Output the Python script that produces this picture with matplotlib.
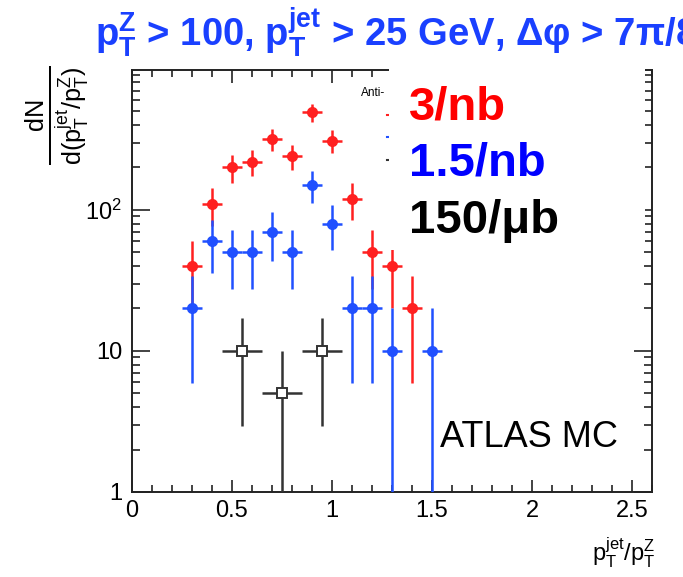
import numpy as np
import matplotlib
matplotlib.use("Agg")
import matplotlib.pyplot as plt
from matplotlib.patches import Rectangle
from matplotlib.lines import Line2D
from matplotlib.ticker import FixedLocator, FixedFormatter, LogLocator, NullFormatter, MultipleLocator

plt.rcParams['font.family'] = ['Liberation Sans', 'DejaVu Sans']
plt.rcParams['mathtext.fontset'] = 'custom'
plt.rcParams['mathtext.rm'] = 'Liberation Sans'
plt.rcParams['mathtext.it'] = 'Liberation Sans:italic'
plt.rcParams['mathtext.bf'] = 'Liberation Sans:bold'

# 3/nb sample (bin width 0.1)
red_x = [0.3, 0.4, 0.5, 0.6, 0.7, 0.8, 0.9, 1.0, 1.1, 1.2, 1.3, 1.4]
red_y = [40, 110, 200, 220, 320, 240, 490, 310, 120, 50, 40, 20]
red_err = [20.0, 33.2, 44.7, 46.9, 56.6, 49.0, 70.0, 55.7, 34.6, 22.4, 20.0, 14.1]

# 1.5/nb sample (bin width 0.1)
blue_x = [0.3, 0.4, 0.5, 0.6, 0.7, 0.8, 0.9, 1.0, 1.1, 1.2, 1.3, 1.5]
blue_y = [20, 60, 50, 50, 70, 50, 150, 80, 20, 20, 10, 10]
blue_err = [14.1, 24.5, 22.4, 22.4, 26.5, 22.4, 38.7, 28.3, 14.1, 14.1, 10.0, 10.0]

# 150/ub sample (bin width 0.2)
black_x = [0.55, 0.75, 0.95]
black_y = [10, 5, 10]
black_err = [7.07, 5.0, 7.07]

W, H = 683, 577
fig = plt.figure(figsize=(W / 100, H / 100), dpi=100)
ax = fig.add_axes([132 / W, 1 - 492 / H, (652 - 132) / W, (492 - 70) / H])
ax.set_yscale('log', nonpositive='clip')

red_c = '#ff2020'
blue_c = '#2050ff'
black_c = '#333333'

ax.errorbar(red_x, red_y, yerr=red_err, xerr=0.05, fmt='o', color=red_c,
            ms=7, elinewidth=1.8, capsize=0, zorder=3)
ax.errorbar(blue_x, blue_y, yerr=blue_err, xerr=0.05, fmt='o', color=blue_c,
            ms=7, elinewidth=1.8, capsize=0, zorder=4)
ax.errorbar(black_x, black_y, yerr=black_err, xerr=0.1, fmt='s', color=black_c,
            mfc='white', mec=black_c, mew=1.4, ms=7.5, elinewidth=1.8,
            capsize=0, zorder=5)

ax.set_xlim(0, 2.6)
ax.set_ylim(1, 980)

for s in ax.spines.values():
    s.set_linewidth(1.4)
    s.set_color('#222222')

ax.xaxis.set_major_locator(FixedLocator([0, 0.5, 1, 1.5, 2, 2.5]))
ax.xaxis.set_major_formatter(FixedFormatter(['0', '0.5', '1', '1.5', '2', '2.5']))
ax.xaxis.set_minor_locator(MultipleLocator(0.1))
ax.yaxis.set_major_locator(FixedLocator([1, 10, 100]))
ax.yaxis.set_major_formatter(FixedFormatter(['1', '10', r'10$^{2}$']))
ax.yaxis.set_minor_locator(LogLocator(base=10, subs=np.arange(2, 10)))
ax.yaxis.set_minor_formatter(NullFormatter())

ax.tick_params(which='both', direction='in', top=True, right=True,
               labelsize=17, color='#222222', width=1.2)
ax.tick_params(axis='x', which='major', length=9, pad=6)
ax.tick_params(axis='x', which='minor', length=5)
ax.tick_params(axis='y', which='major', length=13, pad=7)
ax.tick_params(axis='y', which='minor', length=6)

# axis titles
fig.text(655 / W, 1 - 553 / H, r'p$_\mathrm{T}^\mathrm{jet}$/p$_\mathrm{T}^\mathrm{Z}$',
         ha='right', va='center', fontsize=17)
fig.text(57 / W, 1 - 115 / H,
         r'$\frac{\mathrm{dN}}{\mathrm{d(p_T^{jet}/p_T^{Z})}}$',
         rotation=90, ha='center', va='center', fontsize=26)

# selection title
fig.text(95 / W, 1 - 46 / H,
         r'p$_\mathbf{T}^\mathbf{Z}$ > 100, p$_\mathbf{T}^\mathbf{jet}$ > 25 GeV, Δφ > 7π/8',
         ha='left', va='baseline', fontsize=27.5, fontweight='bold', color='#1a40ff')

# jet algorithm note and legend marker stubs
fig.text(361 / W, 1 - 93 / H, 'Anti-', fontsize=8.5,
         ha='left', va='center', zorder=1)
for yy, cc in [(115, red_c), (137, blue_c), (160, black_c)]:
    fig.add_artist(Line2D([387 / W, 389 / W], [1 - yy / H, 1 - yy / H],
                          color=cc, lw=1.5, zorder=1))

# cover panel
fig.add_artist(Rectangle((389 / W, 1 - 250 / H), (645 - 389) / W, 190 / H,
                         transform=fig.transFigure, facecolor='white',
                         edgecolor='none', zorder=5))

# luminosity labels
fig.text(409 / W, 1 - 107 / H, '3/nb', fontsize=34, fontweight='bold',
         color='#ff0000', ha='left', va='center', zorder=6)
fig.text(409 / W, 1 - 164 / H, '1.5/nb', fontsize=34, fontweight='bold',
         color='#0000ff', ha='left', va='center', zorder=6)
fig.text(409 / W, 1 - 221 / H, '150/μb', fontsize=34, fontweight='bold',
         color='black', ha='left', va='center', zorder=6)

ax.text(1.54, 2.45, 'ATLAS MC', fontsize=26, ha='left', va='center', zorder=6)

fig.savefig('out.png', dpi=100)
